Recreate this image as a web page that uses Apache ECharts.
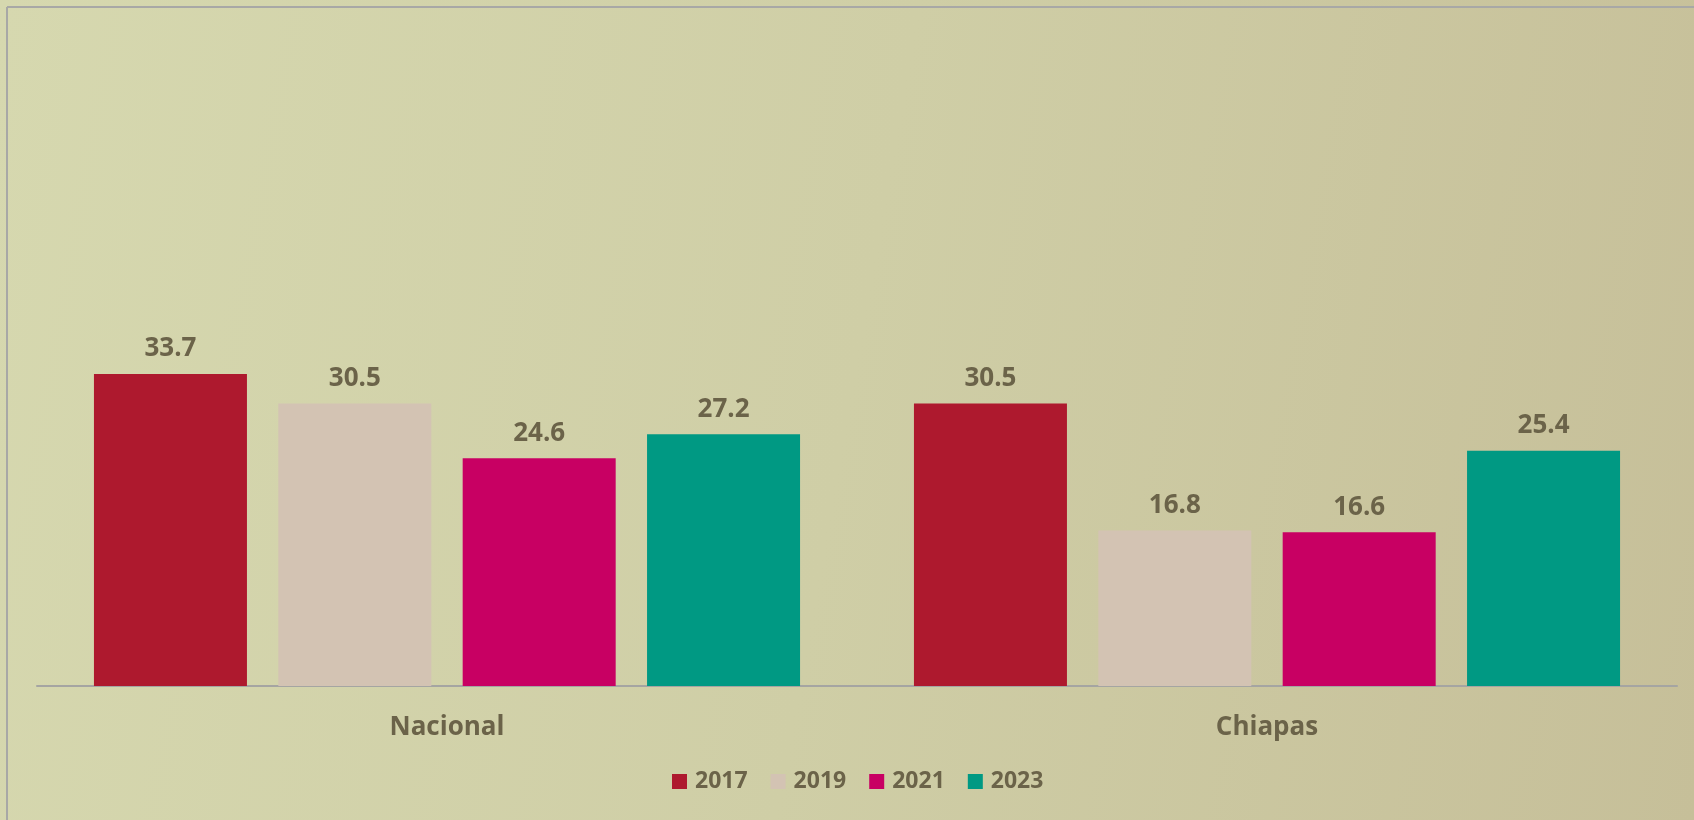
<!DOCTYPE html>
<html><head><meta charset="utf-8">
<script src="https://cdn.jsdelivr.net/npm/echarts@6/dist/echarts.min.js"></script>
<style>
html,body{margin:0;padding:0;width:1694px;height:820px;overflow:hidden;
background:linear-gradient(100deg,#D6D8AF 0%,#CFCEA6 50%,#C6BF99 100%);}
#c{width:1694px;height:820px;}
</style></head><body><div id="c"></div>
<script>
const categories = ['Nacional', 'Chiapas'];
const seriesNames = ['2017', '2019', '2021', '2023'];
const v2017 = [33.7, 30.5];
const v2019 = [30.5, 16.8];
const v2021 = [24.6, 16.6];
const v2023 = [27.2, 25.4];
const colors = ['#AE192E', '#D3C3B3', '#C80063', '#009983'];
const values = [v2017, v2019, v2021, v2023];
const txt = '#6B6349';
const font = 'Open Sans';

const chart = echarts.init(document.getElementById('c'), null, {renderer: 'canvas'});
chart.setOption({
  backgroundColor: 'transparent',
  animation: false,
  grid: {left: 37, right: 17, top: 130.4, bottom: 134, containLabel: false},
  xAxis: {
    type: 'category', data: categories,
    axisLine: {show: true, lineStyle: {color: '#A5A5A2', width: 2}},
    axisTick: {show: false},
    axisLabel: {color: txt, fontFamily: font, fontWeight: 'bold', fontSize: 26, margin: 29}
  },
  yAxis: {type: 'value', min: 0, max: 60, show: false, splitLine: {show: false}},
  legend: {
    bottom: 22, left: 667, itemWidth: 15, itemHeight: 15, itemGap: 23,
    icon: 'rect',
    textStyle: {color: txt, fontFamily: font, fontWeight: 'bold', fontSize: 23, padding: [0, 0, 0, 3]},
    data: seriesNames
  },
  graphic: [
    {type: 'line', shape: {x1: 7, y1: 7, x2: 1694, y2: 7}, style: {stroke: '#A8A8A6', lineWidth: 2}},
    {type: 'line', shape: {x1: 7, y1: 7, x2: 7, y2: 820}, style: {stroke: '#A8A8A6', lineWidth: 2}}
  ],
  series: seriesNames.map((n, i) => ({
    name: n, type: 'bar', data: values[i], barWidth: 153, barGap: '20.5%',
    itemStyle: {color: colors[i]},
    label: {show: true, position: 'top', distance: 12, color: txt, fontFamily: font,
      fontWeight: 'bold', fontSize: 26, formatter: p => p.value.toFixed(1)}
  }))
});
</script></body></html>
